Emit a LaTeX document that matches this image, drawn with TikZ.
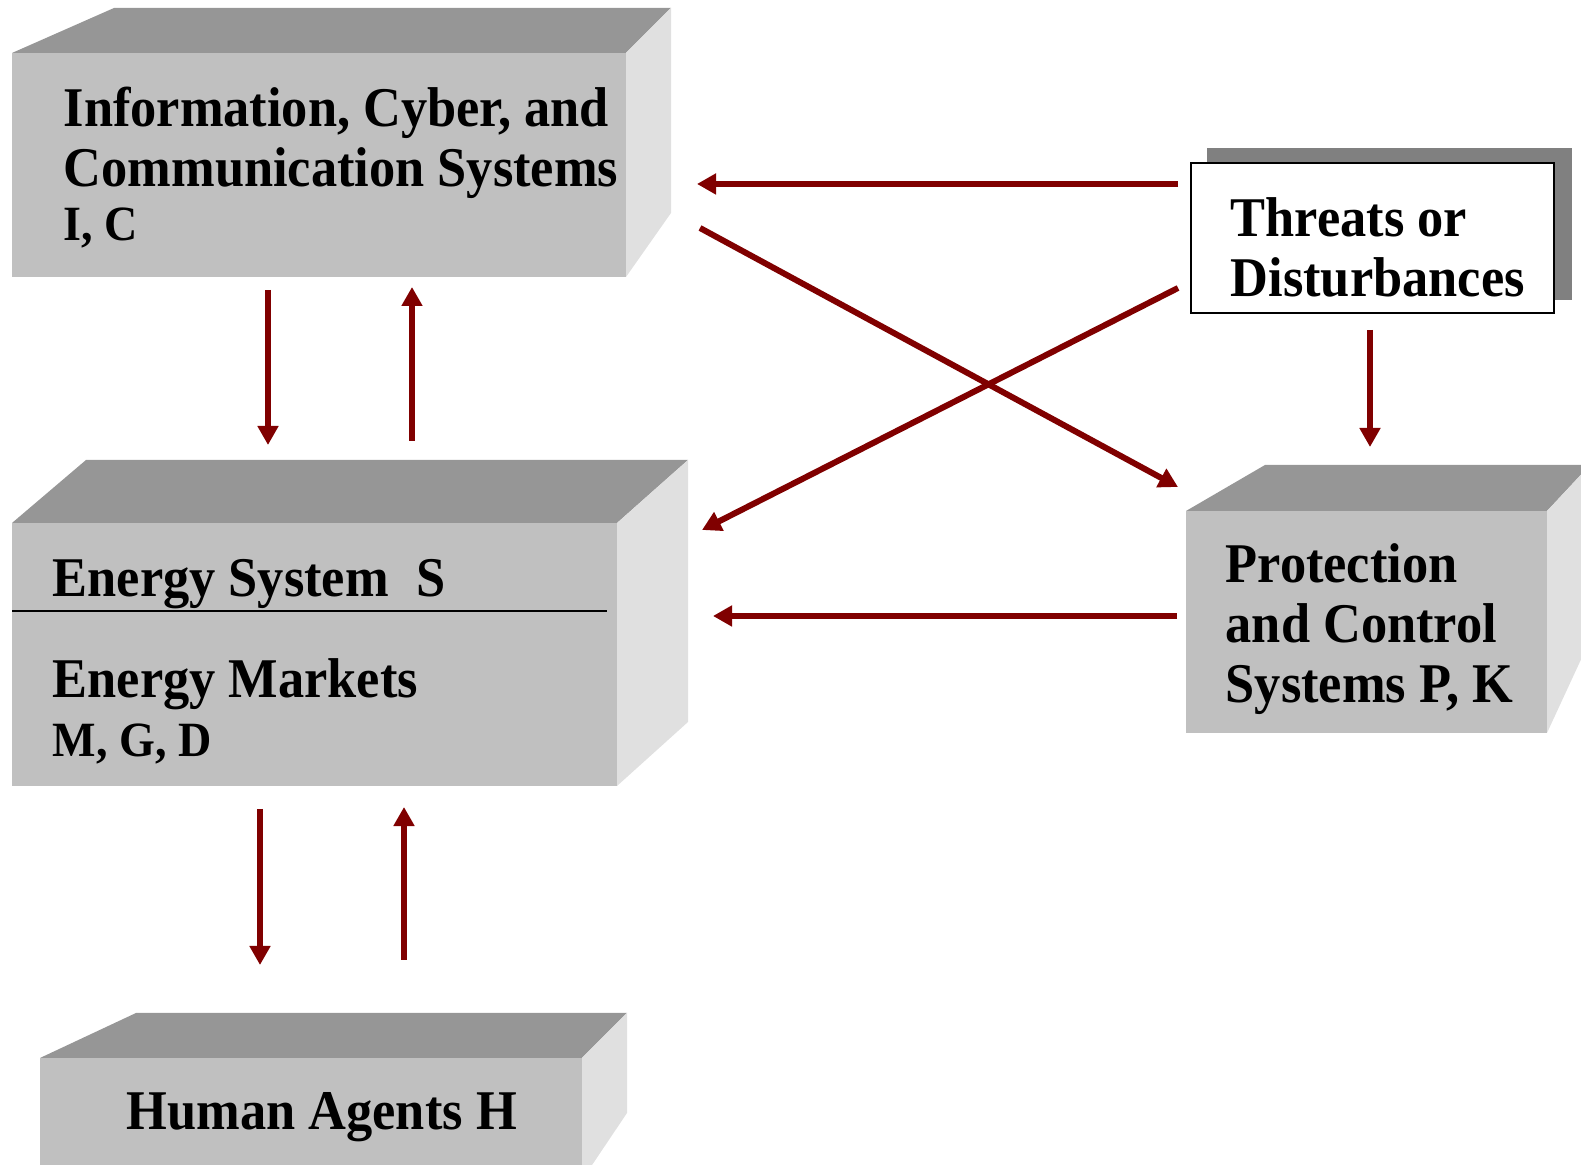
\documentclass[tikz,border=0pt]{standalone}
\usepackage{fontspec}
\setmainfont{Liberation Serif}
\usetikzlibrary{arrows.meta}
\definecolor{topgray}{RGB}{150,150,150}
\definecolor{frontgray}{RGB}{192,192,192}
\definecolor{sidegray}{RGB}{224,224,224}
\definecolor{shadowgray}{RGB}{128,128,128}
\definecolor{arrowred}{RGB}{128,0,0}
\newcommand{\boxlines}[1]{\scalebox{1}[1.07]{\begin{tabular}[t]{@{}l@{}}#1\end{tabular}}}
\newcommand{\smallline}{\fontsize{13.1}{15.9}\selectfont}
\begin{document}
\begin{tikzpicture}[x=0.01cm,y=-0.01cm,
  topface/.style={fill=topgray},
  frontface/.style={fill=frontgray},
  sideface/.style={fill=sidegray},
  boxtext/.style={inner sep=0pt, font=\bfseries\fontsize{14.9}{15.9}\selectfont, anchor=base west},
  flow/.style={draw=arrowred, line width=0.06cm, -{Triangle[width=0.2cm,length=0.19cm]}}
]
\useasboundingbox (0,0) rectangle (1581,1165);
\clip (0,0) rectangle (1581,1165);

% Information, Cyber, and Communication Systems
\fill[topface] (12,53) -- (114,8) -- (671,8) -- (626,53) -- cycle;
\fill[sideface] (626,53) -- (671,8) -- (671,213) -- (626,277) -- cycle;
\fill[frontface] (12,53) rectangle (626,277);
\node[boxtext] (ics) at (63,127) {\boxlines{Information, Cyber, and\\ Communication Systems\\[-0.057cm] \smallline I, C}};

% Energy System
\fill[topface] (12,523) -- (86,460) -- (688,460) -- (617,523) -- cycle;
\fill[sideface] (617,523) -- (688,460) -- (688,722) -- (617,786) -- cycle;
\fill[frontface] (12,523) rectangle (617,786);
\draw[line width=0.02cm] (12,611) -- (607,611);
\node[boxtext] (es) at (52,597) {\boxlines{Energy System\hspace{0.28cm}S}};
\node[boxtext] (em) at (52,698) {\boxlines{Energy Markets\\[-0.013cm] \smallline M, G, D}};

% Protection and Control Systems
\fill[topface] (1186,511) -- (1265,465) -- (1590,465) -- (1547,511) -- cycle;
\fill[sideface] (1547,511) -- (1590,465) -- (1590,640) -- (1547,733) -- cycle;
\fill[frontface] (1186,511) rectangle (1547,733);
\node[boxtext] (pc) at (1225,583) {\boxlines{Protection\\ and Control\\ Systems P, K}};

% Human Agents
\fill[topface] (40,1058) -- (136,1013) -- (627,1013) -- (582,1058) -- cycle;
\fill[sideface] (582,1058) -- (627,1013) -- (627,1113) -- (582,1180) -- cycle;
\fill[frontface] (40,1058) rectangle (582,1180);
\node[boxtext] (ha) at (126,1130) {\boxlines{Human Agents H}};

% Threats or Disturbances
\fill[shadowgray] (1207,148) rectangle (1572,300);
\draw[fill=white, line width=0.02cm] (1191,163) rectangle (1554,313);
\node[boxtext] (td) at (1230,237) {\boxlines{Threats or\\ Disturbances}};

% connector end points
\coordinate (icsDownS) at (268,290);  \coordinate (icsDownE) at (268,445);
\coordinate (esUpS) at (412,441);     \coordinate (esUpE) at (412,287);
\coordinate (esDownS) at (260,809);   \coordinate (esDownE) at (260,965);
\coordinate (haUpS) at (404,960);     \coordinate (haUpE) at (404,807);
\coordinate (tdIcsS) at (1178,184);   \coordinate (tdIcsE) at (697,184);
\coordinate (tdEsS) at (1178,288);    \coordinate (tdEsE) at (702,530);
\coordinate (icsPcS) at (700,228);    \coordinate (icsPcE) at (1178,487);
\coordinate (pcEsS) at (1177,616);    \coordinate (pcEsE) at (713,616);
\coordinate (tdPcS) at (1370,330);    \coordinate (tdPcE) at (1370,447);

\draw[flow] (icsDownS) -- (icsDownE);
\draw[flow] (esUpS) -- (esUpE);
\draw[flow] (esDownS) -- (esDownE);
\draw[flow] (haUpS) -- (haUpE);
\draw[flow] (tdIcsS) -- (tdIcsE);
\draw[flow] (tdEsS) -- (tdEsE);
\draw[flow] (icsPcS) -- (icsPcE);
\draw[flow] (pcEsS) -- (pcEsE);
\draw[flow] (tdPcS) -- (tdPcE);
\end{tikzpicture}
\end{document}
